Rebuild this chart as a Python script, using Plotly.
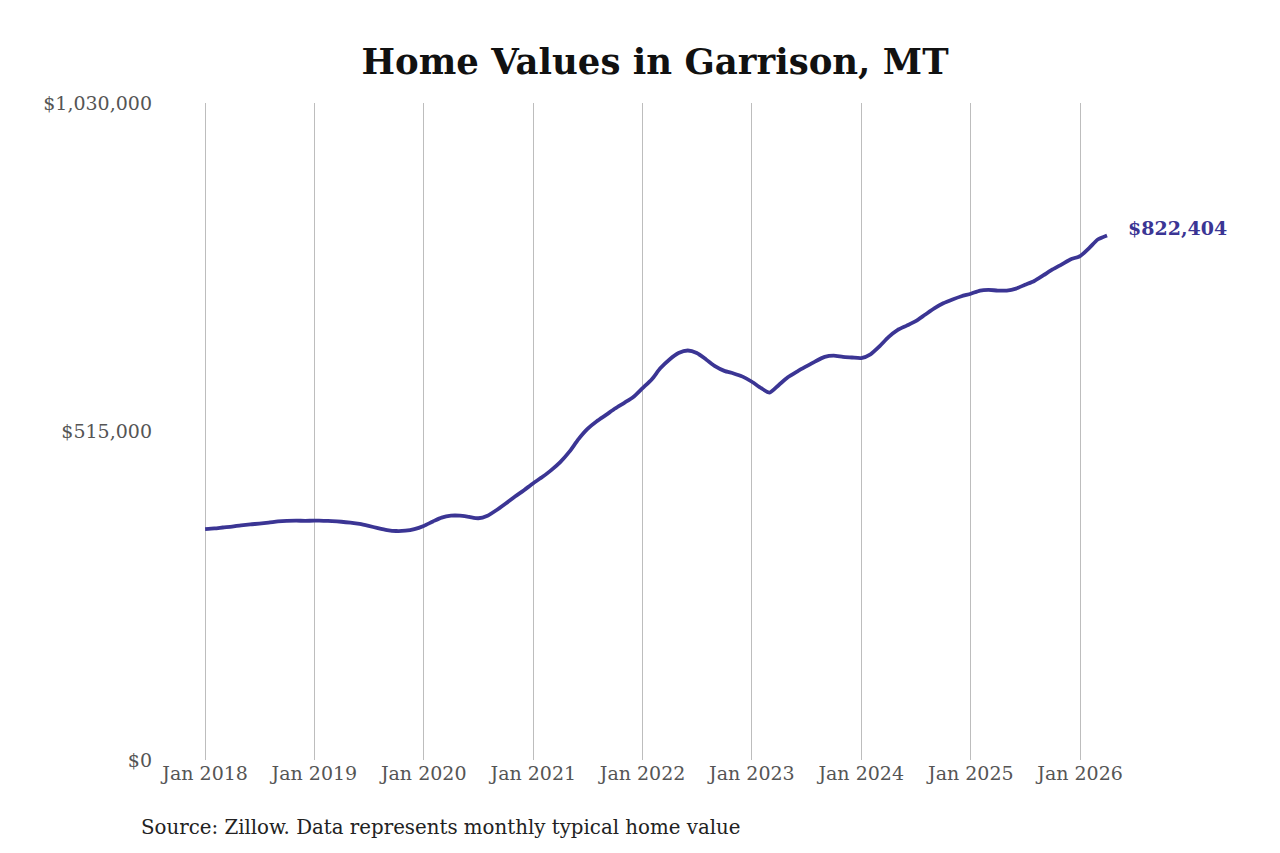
import plotly.graph_objects as go
import pandas as pd


# monthly typical home value, Jan 2018 .. Apr 2026
months = pd.date_range("2018-01-01", "2026-04-01", freq="MS")

values_2018 = [362000, 363000, 364500, 366000, 368000, 369500, 370500, 372000, 374000, 375000, 375200, 375000]
values_2019 = [375200, 375000, 374500, 373500, 372000, 370000, 367000, 363500, 360500, 359000, 359500, 362000]
values_2020 = [367000, 374000, 380000, 383000, 383000, 381000, 379000, 383000, 392000, 402000, 413000, 423000]
values_2021 = [434000, 444000, 454000, 467000, 483000, 503000, 519000, 531000, 541000, 551000, 560000, 569000]
values_2022 = [583000, 597000, 614000, 628000, 638000, 642000, 638000, 628000, 617000, 610000, 606000, 601000]
values_2023 = [593000, 583000, 576000, 588000, 600000, 609000, 617000, 625000, 632000, 634000, 632000, 631000]
values_2024 = [630000, 636000, 648000, 663000, 674000, 681000, 688000, 698000, 708000, 716000, 722000, 727000]
values_2025 = [731000, 736000, 737000, 736000, 736000, 739000, 745000, 751000, 760000, 769000, 777000, 785000]
values_2026 = [790000, 803000, 816000, 822404]

home_values = (values_2018 + values_2019 + values_2020 + values_2021 + values_2022
               + values_2023 + values_2024 + values_2025 + values_2026)

y_ticks = [0, 515000, 1030000]
y_tick_labels = ["$0", "$515,000", "$1,030,000"]

title_text = "Home Values in Garrison, MT"
source_text = "Source: Zillow. Data represents monthly typical home value"

line_color = "#3b3594"
serif = "DejaVu Serif"

# page body has an 8px margin, so the figure is kept inside the window
fig_w, fig_h = 1264, 837

fig = go.Figure()
fig.add_trace(go.Scatter(
    x=months, y=home_values, mode="lines",
    line=dict(color=line_color, width=3.8, shape="spline", smoothing=0.6),
    hoverinfo="x+y", showlegend=False,
))

fig.add_annotation(
    x=months[-1], y=home_values[-1], text=f"<b>${home_values[-1]:,.0f}</b>",
    showarrow=False, xanchor="left", yanchor="middle", xshift=19, yshift=7,
    font=dict(family=serif, size=19, color=line_color),
)

fig.add_annotation(
    xref="paper", yref="paper", x=-0.0144, y=-0.1035, xanchor="left", yanchor="middle",
    text=source_text, showarrow=False,
    font=dict(family=serif, size=19.8, color="#222222"),
)

fig.update_layout(
    width=fig_w, height=fig_h,
    paper_bgcolor="white", plot_bgcolor="white",
    margin=dict(l=145, r=147, t=95, b=85),
    title=dict(text=f"<b>{title_text}</b>", x=0.5119, xref="container", xanchor="center",
               y=0.9355, yref="container", yanchor="middle",
               font=dict(family=serif, size=35.5, color="#111111")),
    font=dict(family=serif, size=19, color="#555555"),
)

fig.update_xaxes(
    range=["2017-07-11", "2026-05-31"],
    tick0="2018-01-01", dtick="M12", tickformat="%b %Y",
    showgrid=True, gridcolor="#bdbdbd", gridwidth=1,
    showline=False, zeroline=False, ticks="",
    tickfont=dict(family=serif, size=19, color="#555555"),
)
fig.update_yaxes(
    range=[0, 1030000], tickvals=y_ticks, ticktext=y_tick_labels,
    showgrid=False, showline=False, zeroline=False, ticks="",
    tickfont=dict(family=serif, size=19, color="#555555"),
)

fig.write_html("out.html")
